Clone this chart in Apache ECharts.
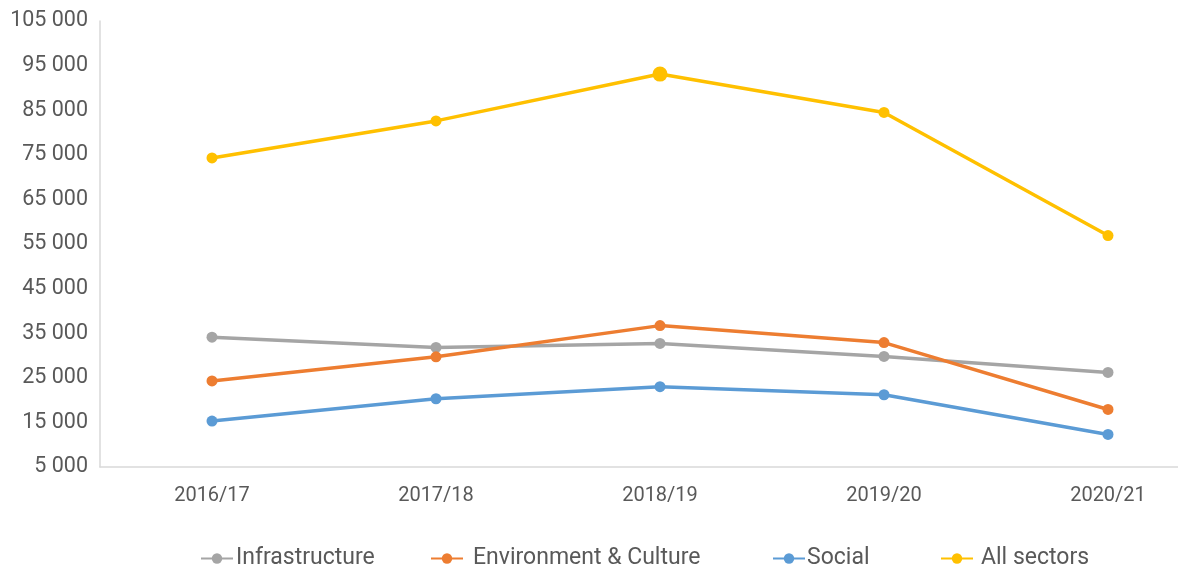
<!DOCTYPE html>
<html>
<head>
<meta charset="utf-8">
<script src="https://cdn.jsdelivr.net/npm/echarts@6/dist/echarts.min.js"></script>
<style>
  html, body { margin: 0; padding: 0; background: #ffffff; overflow: hidden; }
  #chart { width: 1220px; height: 572px; }
</style>
</head>
<body>
<div id="chart"></div>
<script>
// Financial years on the horizontal axis
const years = ['2016/17', '2017/18', '2018/19', '2019/20', '2020/21'];

// Series values per year
const infrastructure = [34100, 31800, 32700, 29800, 26200];
const environmentCulture = [24300, 29700, 36700, 32900, 17900];
const social = [15300, 20300, 23000, 21200, 12300];
const allSectors = [74300, 82600, 93100, 84500, 56900];

// Value axis range
const yMin = 5000;
const yMax = 105000;
const yStep = 10000;

const seriesNames = ['Infrastructure', 'Environment & Culture', 'Social', 'All sectors'];
const seriesColors = ['#a5a5a5', '#ed7d31', '#5b9bd5', '#ffc000'];
const seriesData = [infrastructure, environmentCulture, social, allSectors];

const textColor = '#595959';
const fontFamily = 'Roboto, "Liberation Sans", sans-serif';

function spaced(v) {
  return String(v).replace(/\B(?=(\d{3})+(?!\d))/g, ' ');
}

const series = seriesNames.map((name, i) => ({
  name: name,
  type: 'line',
  data: seriesData[i].map((v) => {
    // the peak of the all-sectors line carries a larger marker
    if (i === 3 && v === Math.max(...allSectors)) {
      return { value: v, symbolSize: 15 };
    }
    return v;
  }),
  symbol: 'circle',
  symbolSize: 11,
  showSymbol: true,
  lineStyle: { width: 3.5, color: seriesColors[i] },
  itemStyle: { color: seriesColors[i] },
  emphasis: { disabled: true },
  z: 2 + i
}));

// Each legend entry is placed on its own
const legendLefts = [200, 430, 772, 940];
const legendGaps = [3, 10, 2, 8];
const legends = seriesNames.map((name, i) => ({
  data: [name],
  left: legendLefts[i],
  top: 547,
  itemWidth: 32,
  itemHeight: 13,
  itemGap: 0,
  padding: 0,
  selectedMode: false,
  textStyle: {
    color: textColor,
    fontSize: 23,
    fontFamily: fontFamily,
    padding: [0, 0, 0, legendGaps[i] - 5]
  }
}));

const chart = echarts.init(document.getElementById('chart'), null, { renderer: 'canvas' });
chart.setOption({
  animation: false,
  backgroundColor: '#ffffff',
  color: seriesColors,
  grid: { left: 100, top: 21, right: 0, bottom: 105, containLabel: false },
  legend: legends,
  xAxis: {
    type: 'category',
    data: years,
    boundaryGap: true,
    axisLine: { show: true, lineStyle: { color: '#d9d9d9', width: 1.5 } },
    axisTick: { show: false },
    axisLabel: { color: textColor, fontSize: 20, fontFamily: fontFamily, margin: 19 },
    splitLine: { show: false }
  },
  yAxis: {
    type: 'value',
    min: yMin,
    max: yMax,
    interval: yStep,
    axisLine: { show: true, lineStyle: { color: '#d9d9d9', width: 1.5 } },
    axisTick: { show: false },
    splitLine: { show: false },
    axisLabel: {
      color: textColor,
      fontSize: 21.5,
      fontFamily: fontFamily,
      margin: 12,
      formatter: v => spaced(v)
    }
  },
  series: series
});
</script>
</body>
</html>
